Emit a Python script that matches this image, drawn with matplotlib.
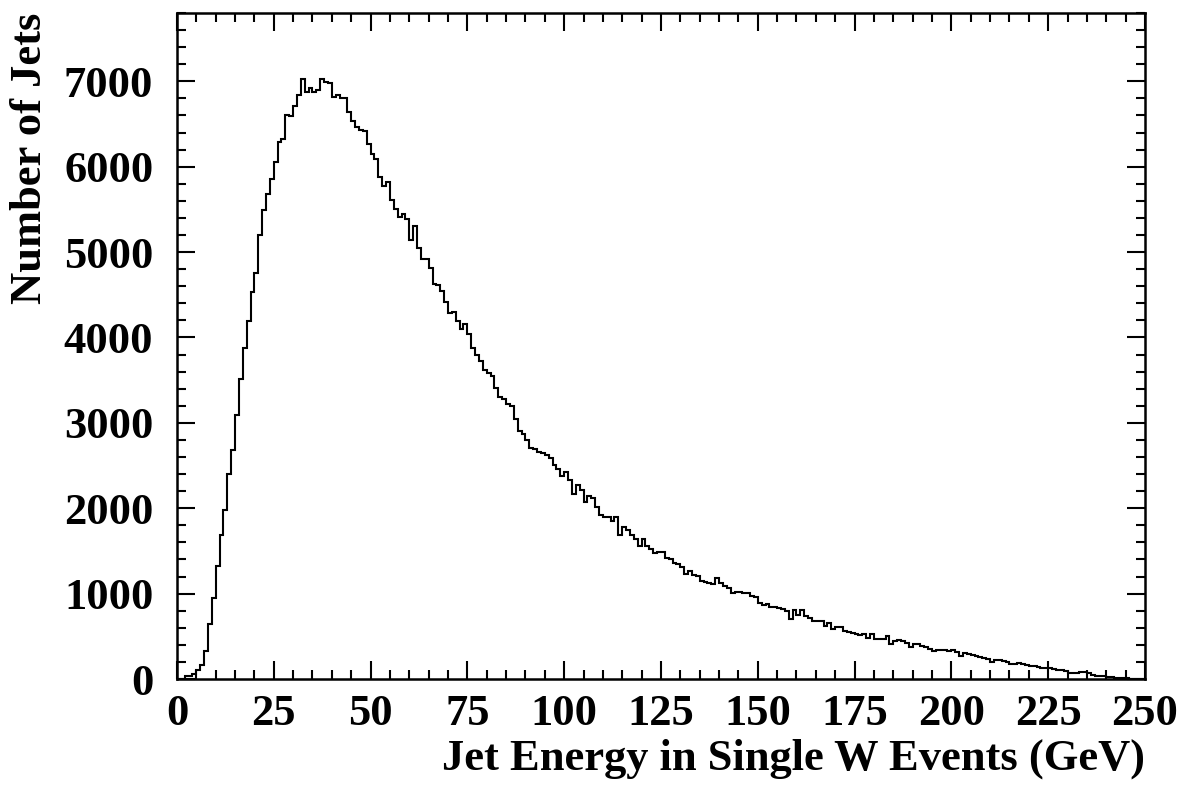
import numpy as np
import matplotlib.pyplot as plt
from matplotlib.ticker import MultipleLocator

# jets per 1 GeV bin, 0 - 250 GeV
counts_0_50 = [0, 0, 30, 40, 60, 100, 160, 330, 650, 950,
               1325, 1685, 1975, 2400, 2680, 3090, 3510, 3880, 4190, 4530,
               4760, 5200, 5490, 5680, 5860, 6060, 6290, 6320, 6610, 6590,
               6710, 6835, 7030, 6870, 6925, 6880, 6900, 7030, 6995, 6985,
               6815, 6840, 6800, 6810, 6640, 6530, 6460, 6425, 6415, 6270]
counts_50_99 = [6145, 6095, 5880, 5775, 5825, 5610, 5510, 5410, 5445, 5385,
                5140, 5300, 5050, 4925, 4925, 4810, 4630, 4610, 4550, 4415,
                4290, 4300, 4190, 4095, 4160, 4045, 3880, 3800, 3725, 3620,
                3585, 3545, 3405, 3300, 3280, 3220, 3200, 3050, 2900, 2875,
                2805, 2710, 2690, 2655, 2650, 2620, 2585, 2510, 2465]
counts_99_151 = [2380, 2419, 2333, 2169, 2274, 2216, 2079, 2138, 2118, 2020,
                 1923, 1895, 1895, 1856, 1895, 1688, 1778, 1747, 1688, 1637,
                 1559, 1637, 1559, 1520, 1473, 1485, 1485, 1422, 1403, 1356,
                 1344, 1317, 1231, 1270, 1219, 1208, 1153, 1141, 1122, 1110,
                 1188, 1122, 1090, 1063, 1004, 1024, 1016, 1012, 1012, 977,
                 965, 887]
counts_151_200 = [868, 875, 844, 844, 836, 817, 793, 707, 805, 754,
                  813, 735, 719, 680, 680, 680, 617, 657, 590, 610,
                  610, 563, 551, 539, 531, 512, 531, 485, 531, 469,
                  473, 473, 500, 406, 446, 461, 446, 422, 375, 414,
                  406, 387, 375, 356, 324, 344, 344, 344, 328]
counts_200_250 = [336, 320, 266, 305, 289, 277, 266, 254, 242, 234,
                  203, 227, 219, 215, 203, 172, 180, 191, 172, 160,
                  156, 152, 141, 129, 125, 133, 121, 109, 102, 94,
                  66, 70, 74, 78, 82, 74, 51, 39, 31, 31,
                  20, 23, 12, 16, 12, 8, 4, 0, 0, 0]

counts = counts_0_50 + counts_50_99 + counts_99_151 + counts_151_200 + counts_200_250
edges = np.linspace(0, 250, len(counts) + 1)

plt.rcParams['font.family'] = ['Liberation Serif', 'DejaVu Serif']
plt.rcParams['font.weight'] = 'bold'

fig = plt.figure(figsize=(11.86, 7.95), dpi=100)
ax = fig.add_axes([0.1492, 0.1459, 0.8162, 0.8377])

ax.stairs(counts, edges, color='black', linewidth=1.5)

ax.set_xlim(0, 250)
ax.set_ylim(0, 7800)
ax.xaxis.set_major_locator(MultipleLocator(25))
ax.xaxis.set_minor_locator(MultipleLocator(5))
ax.yaxis.set_major_locator(MultipleLocator(1000))
ax.yaxis.set_minor_locator(MultipleLocator(200))
ax.tick_params(which='both', direction='in', top=True, right=True, width=1.5, labelsize=32)
ax.tick_params(which='major', length=13)
ax.tick_params(which='minor', length=6.5)
ax.tick_params(axis='y', pad=17)
ax.tick_params(axis='x', pad=11)
for s in ax.spines.values():
    s.set_linewidth(1.8)

ax.set_xlabel('Jet Energy in Single W Events (GeV)', fontsize=32, fontweight='bold', loc='right', labelpad=3)
ax.set_ylabel('Number of Jets', fontsize=32, fontweight='bold', loc='top', labelpad=10)

fig.savefig('out.png', dpi=100)
